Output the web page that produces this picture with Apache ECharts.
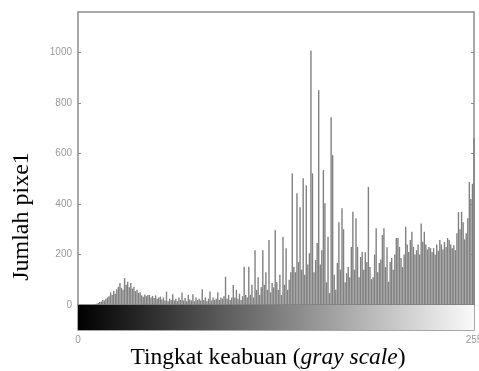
<!DOCTYPE html>
<html><head><meta charset="utf-8">
<script src="https://cdn.jsdelivr.net/npm/echarts@6/dist/echarts.min.js"></script>
<style>html,body{margin:0;padding:0;background:#fff}#c{width:479px;height:371px}</style>
</head><body><div id="c"></div>
<script>
// gray levels 0..255
const grayLevels = Array.from({length: 256}, (_, i) => i);
// pixel counts per gray level
const counts = [
  0,0,0,0,0,0,0,0,0,0,0,2,
  5,8,12,14,20,18,25,30,
  35,50,40,55,45,62,72,87,68,60,
  107,80,92,70,87,65,72,55,60,48,
  50,38,33,42,35,40,40,30,36,28,
  38,25,30,33,22,30,18,53,15,25,
  20,43,18,25,15,30,20,49,18,28,
  15,40,22,18,43,15,30,20,25,18,
  62,20,30,15,25,53,18,30,20,25,
  50,20,30,25,35,112,25,40,20,30,
  79,30,60,25,45,20,35,151,40,30,
  151,40,80,30,217,60,110,40,70,217,
  80,130,60,257,50,87,70,296,90,60,
  120,40,269,80,225,60,100,130,521,150,
  130,442,170,387,140,502,120,474,160,205,
  1008,521,130,178,245,850,
  160,217,534,403,90,270,47,743,593,120,
  60,166,328,140,383,300,90,126,150,110,
  230,369,140,343,230,110,190,211,140,209,
  170,468,150,102,110,200,304,130,166,180,
  277,304,150,229,92,170,186,140,200,265,
  265,230,186,150,200,310,240,210,257,290,
  230,200,217,240,200,323,250,290,240,220,
  230,225,210,225,200,240,215,257,240,220,
  250,230,265,257,240,225,237,217,284,368,
  300,369,328,260,284,343,487,420,480,660
];
const yTickValues = [0, 200, 400, 600, 800, 1000];
const topTickValues = [0, 50, 100, 150, 200, 250];
const xLabelValues = [0, 255];
const yMax = 1160;

const axisGray = '#8c8c8c';
const chart = echarts.init(document.getElementById('c'), null, {renderer: 'canvas'});
chart.setOption({
  animation: false,
  backgroundColor: '#fff',
  grid: [
    {left: 78, top: 12, width: 396, height: 293, show: true, borderColor: axisGray, borderWidth: 1.5, outerBoundsMode: 'none', containLabel: false},
    {left: 78, top: 305, width: 396, height: 25, show: true, borderColor: axisGray, borderWidth: 1.5, outerBoundsMode: 'none', containLabel: false}
  ],
  xAxis: [
    {gridIndex: 0, type: 'value', min: 0, max: 255, position: 'top',
     axisLine: {show: false}, splitLine: {show: false},
     axisTick: {show: true, inside: true, length: 3, customValues: topTickValues, lineStyle: {color: axisGray}},
     axisLabel: {show: false}},
    {gridIndex: 1, type: 'value', min: 0, max: 255, position: 'bottom',
     axisLine: {show: false}, splitLine: {show: false}, axisTick: {show: false},
     axisLabel: {show: true, customValues: xLabelValues, color: '#9a9a9a', fontSize: 10, margin: 5,
       fontFamily: 'Liberation Sans', formatter: v => String(v)},
     name: '{n|Tingkat keabuan (}{i|gray scale}{n|)}', nameLocation: 'middle', nameGap: 12,
     nameTextStyle: {padding: [0, 16, 0, 0], rich: {
       n: {fontFamily: 'Liberation Serif', fontSize: 23.5, color: '#000'},
       i: {fontFamily: 'Liberation Serif', fontSize: 23.5, fontStyle: 'italic', color: '#000'}
     }}}
  ],
  yAxis: [
    {gridIndex: 0, type: 'value', min: 0, max: yMax,
     axisLine: {show: false}, splitLine: {show: false},
     axisTick: {show: true, inside: true, length: 3, customValues: yTickValues, lineStyle: {color: axisGray}},
     axisLabel: {customValues: yTickValues, color: '#9a9a9a', fontSize: 10, margin: 6,
       fontFamily: 'Liberation Sans', formatter: v => String(v)},
     name: 'Jumlah pixe1', nameLocation: 'middle', nameGap: 44,
     nameTextStyle: {fontFamily: 'Liberation Serif', fontSize: 24, color: '#000', padding: [0, 116, 0, 0]}},
    {gridIndex: 0, type: 'value', min: 0, max: yMax, position: 'right',
     axisLine: {show: false}, splitLine: {show: false},
     axisTick: {show: true, inside: true, length: 3, customValues: yTickValues, lineStyle: {color: axisGray}},
     axisLabel: {show: false}},
    {gridIndex: 1, type: 'value', min: 0, max: 1, show: false}
  ],
  series: [
    {type: 'bar', xAxisIndex: 0, yAxisIndex: 0, barWidth: 1.4,
     data: counts.map((v, i) => [grayLevels[i], v]),
     itemStyle: {color: '#808080'}, silent: true},
    {type: 'custom', xAxisIndex: 1, yAxisIndex: 2, silent: true,
     data: [[grayLevels[0], grayLevels[grayLevels.length - 1]]],
     renderItem: function (params, api) {
       const p0 = api.coord([api.value(0), 1]);
       const p1 = api.coord([api.value(1), 0]);
       return {type: 'rect', shape: {x: p0[0], y: p0[1], width: p1[0] - p0[0], height: p1[1] - p0[1]},
         style: {fill: new echarts.graphic.LinearGradient(0, 0, 1, 0, [
           {offset: 0, color: '#000'}, {offset: 1, color: '#fafafa'}])}};
     }}
  ]
});
</script></body></html>
